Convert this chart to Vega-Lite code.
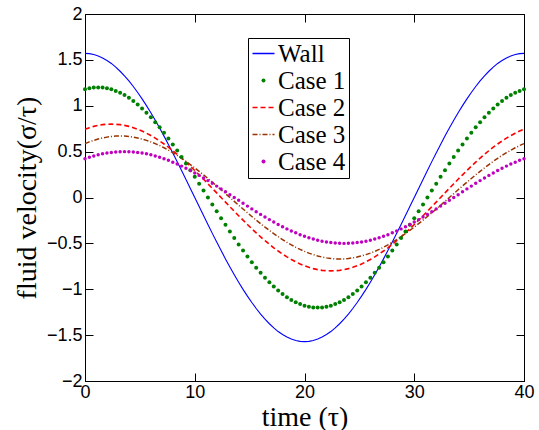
{
  "$schema": "https://vega.github.io/schema/vega-lite/v6.json",
  "width": 439,
  "height": 367,
  "autosize": {"type": "none"},
  "padding": {"left": 85, "top": 14, "right": 15, "bottom": 49},
  "background": "white",
  "config": {
    "view": {"stroke": "black", "strokeWidth": 1},
    "axis": {
      "grid": false,
      "domainColor": "black",
      "tickColor": "black",
      "tickSize": -8,
      "labelFlush": false,
      "labelOverlap": false,
      "labelFont": "Liberation Sans",
      "labelFontSize": 18,
      "labelColor": "black",
      "titleFont": "Liberation Serif",
      "titleFontSize": 28,
      "titleFontWeight": "normal",
      "titleColor": "black"
    }
  },
  "data": {"values": [
    {"t":0,"Wall":1.571,"Case 1":1.179,"Case 2":0.744,"Case 3":0.587,"Case 4":0.422},
    {"t":0.4,"Wall":1.568,"Case 1":1.191,"Case 2":0.761,"Case 3":0.606,"Case 4":0.438},
    {"t":0.8,"Wall":1.558,"Case 1":1.198,"Case 2":0.775,"Case 3":0.623,"Case 4":0.452},
    {"t":1.2,"Wall":1.543,"Case 1":1.2,"Case 2":0.786,"Case 3":0.637,"Case 4":0.465},
    {"t":1.6,"Wall":1.521,"Case 1":1.198,"Case 2":0.794,"Case 3":0.649,"Case 4":0.476},
    {"t":2.0,"Wall":1.494,"Case 1":1.191,"Case 2":0.798,"Case 3":0.658,"Case 4":0.484},
    {"t":2.4,"Wall":1.461,"Case 1":1.179,"Case 2":0.8,"Case 3":0.665,"Case 4":0.491},
    {"t":2.8,"Wall":1.421,"Case 1":1.162,"Case 2":0.798,"Case 3":0.669,"Case 4":0.496},
    {"t":3.2,"Wall":1.376,"Case 1":1.141,"Case 2":0.794,"Case 3":0.67,"Case 4":0.499},
    {"t":3.6,"Wall":1.326,"Case 1":1.116,"Case 2":0.786,"Case 3":0.669,"Case 4":0.5},
    {"t":4.0,"Wall":1.271,"Case 1":1.086,"Case 2":0.775,"Case 3":0.665,"Case 4":0.499},
    {"t":4.4,"Wall":1.210,"Case 1":1.052,"Case 2":0.761,"Case 3":0.658,"Case 4":0.496},
    {"t":4.8,"Wall":1.145,"Case 1":1.013,"Case 2":0.744,"Case 3":0.649,"Case 4":0.491},
    {"t":5.2,"Wall":1.075,"Case 1":0.971,"Case 2":0.724,"Case 3":0.637,"Case 4":0.484},
    {"t":5.6,"Wall":1.001,"Case 1":0.925,"Case 2":0.701,"Case 3":0.623,"Case 4":0.476},
    {"t":6.0,"Wall":0.923,"Case 1":0.875,"Case 2":0.675,"Case 3":0.606,"Case 4":0.465},
    {"t":6.4,"Wall":0.842,"Case 1":0.821,"Case 2":0.647,"Case 3":0.587,"Case 4":0.452},
    {"t":6.8,"Wall":0.757,"Case 1":0.765,"Case 2":0.616,"Case 3":0.566,"Case 4":0.438},
    {"t":7.2,"Wall":0.669,"Case 1":0.705,"Case 2":0.583,"Case 3":0.542,"Case 4":0.422},
    {"t":7.6,"Wall":0.578,"Case 1":0.643,"Case 2":0.548,"Case 3":0.516,"Case 4":0.405},
    {"t":8.0,"Wall":0.485,"Case 1":0.578,"Case 2":0.51,"Case 3":0.488,"Case 4":0.385},
    {"t":8.4,"Wall":0.391,"Case 1":0.511,"Case 2":0.47,"Case 3":0.459,"Case 4":0.365},
    {"t":8.8,"Wall":0.294,"Case 1":0.442,"Case 2":0.429,"Case 3":0.427,"Case 4":0.342},
    {"t":9.2,"Wall":0.197,"Case 1":0.371,"Case 2":0.385,"Case 3":0.394,"Case 4":0.319},
    {"t":9.6,"Wall":0.099,"Case 1":0.298,"Case 2":0.341,"Case 3":0.359,"Case 4":0.294},
    {"t":10.0,"Wall":0,"Case 1":0.225,"Case 2":0.294,"Case 3":0.323,"Case 4":0.268},
    {"t":10.4,"Wall":-0.099,"Case 1":0.15,"Case 2":0.247,"Case 3":0.285,"Case 4":0.241},
    {"t":10.8,"Wall":-0.197,"Case 1":0.075,"Case 2":0.199,"Case 3":0.247,"Case 4":0.213},
    {"t":11.2,"Wall":-0.294,"Case 1":0,"Case 2":0.15,"Case 3":0.207,"Case 4":0.184},
    {"t":11.6,"Wall":-0.391,"Case 1":-0.075,"Case 2":0.1,"Case 3":0.167,"Case 4":0.155},
    {"t":12.0,"Wall":-0.485,"Case 1":-0.15,"Case 2":0.05,"Case 3":0.126,"Case 4":0.124},
    {"t":12.4,"Wall":-0.578,"Case 1":-0.225,"Case 2":0,"Case 3":0.084,"Case 4":0.094},
    {"t":12.8,"Wall":-0.669,"Case 1":-0.298,"Case 2":-0.05,"Case 3":0.042,"Case 4":0.063},
    {"t":13.2,"Wall":-0.757,"Case 1":-0.371,"Case 2":-0.1,"Case 3":0,"Case 4":0.031},
    {"t":13.6,"Wall":-0.842,"Case 1":-0.442,"Case 2":-0.15,"Case 3":-0.042,"Case 4":0},
    {"t":14.0,"Wall":-0.923,"Case 1":-0.511,"Case 2":-0.199,"Case 3":-0.084,"Case 4":-0.031},
    {"t":14.4,"Wall":-1.001,"Case 1":-0.578,"Case 2":-0.247,"Case 3":-0.126,"Case 4":-0.063},
    {"t":14.8,"Wall":-1.075,"Case 1":-0.643,"Case 2":-0.294,"Case 3":-0.167,"Case 4":-0.094},
    {"t":15.2,"Wall":-1.145,"Case 1":-0.705,"Case 2":-0.341,"Case 3":-0.207,"Case 4":-0.124},
    {"t":15.6,"Wall":-1.210,"Case 1":-0.765,"Case 2":-0.385,"Case 3":-0.247,"Case 4":-0.155},
    {"t":16.0,"Wall":-1.271,"Case 1":-0.821,"Case 2":-0.429,"Case 3":-0.285,"Case 4":-0.184},
    {"t":16.4,"Wall":-1.326,"Case 1":-0.875,"Case 2":-0.47,"Case 3":-0.323,"Case 4":-0.213},
    {"t":16.8,"Wall":-1.376,"Case 1":-0.925,"Case 2":-0.51,"Case 3":-0.359,"Case 4":-0.241},
    {"t":17.2,"Wall":-1.421,"Case 1":-0.971,"Case 2":-0.548,"Case 3":-0.394,"Case 4":-0.268},
    {"t":17.6,"Wall":-1.461,"Case 1":-1.013,"Case 2":-0.583,"Case 3":-0.427,"Case 4":-0.294},
    {"t":18.0,"Wall":-1.494,"Case 1":-1.052,"Case 2":-0.616,"Case 3":-0.459,"Case 4":-0.319},
    {"t":18.4,"Wall":-1.521,"Case 1":-1.086,"Case 2":-0.647,"Case 3":-0.488,"Case 4":-0.342},
    {"t":18.8,"Wall":-1.543,"Case 1":-1.116,"Case 2":-0.675,"Case 3":-0.516,"Case 4":-0.365},
    {"t":19.2,"Wall":-1.558,"Case 1":-1.141,"Case 2":-0.701,"Case 3":-0.542,"Case 4":-0.385},
    {"t":19.6,"Wall":-1.568,"Case 1":-1.162,"Case 2":-0.724,"Case 3":-0.566,"Case 4":-0.405},
    {"t":20.0,"Wall":-1.571,"Case 1":-1.179,"Case 2":-0.744,"Case 3":-0.587,"Case 4":-0.422},
    {"t":20.4,"Wall":-1.568,"Case 1":-1.191,"Case 2":-0.761,"Case 3":-0.606,"Case 4":-0.438},
    {"t":20.8,"Wall":-1.558,"Case 1":-1.198,"Case 2":-0.775,"Case 3":-0.623,"Case 4":-0.452},
    {"t":21.2,"Wall":-1.543,"Case 1":-1.2,"Case 2":-0.786,"Case 3":-0.637,"Case 4":-0.465},
    {"t":21.6,"Wall":-1.521,"Case 1":-1.198,"Case 2":-0.794,"Case 3":-0.649,"Case 4":-0.476},
    {"t":22.0,"Wall":-1.494,"Case 1":-1.191,"Case 2":-0.798,"Case 3":-0.658,"Case 4":-0.484},
    {"t":22.4,"Wall":-1.461,"Case 1":-1.179,"Case 2":-0.8,"Case 3":-0.665,"Case 4":-0.491},
    {"t":22.8,"Wall":-1.421,"Case 1":-1.162,"Case 2":-0.798,"Case 3":-0.669,"Case 4":-0.496},
    {"t":23.2,"Wall":-1.376,"Case 1":-1.141,"Case 2":-0.794,"Case 3":-0.67,"Case 4":-0.499},
    {"t":23.6,"Wall":-1.326,"Case 1":-1.116,"Case 2":-0.786,"Case 3":-0.669,"Case 4":-0.5},
    {"t":24.0,"Wall":-1.271,"Case 1":-1.086,"Case 2":-0.775,"Case 3":-0.665,"Case 4":-0.499},
    {"t":24.4,"Wall":-1.210,"Case 1":-1.052,"Case 2":-0.761,"Case 3":-0.658,"Case 4":-0.496},
    {"t":24.8,"Wall":-1.145,"Case 1":-1.013,"Case 2":-0.744,"Case 3":-0.649,"Case 4":-0.491},
    {"t":25.2,"Wall":-1.075,"Case 1":-0.971,"Case 2":-0.724,"Case 3":-0.637,"Case 4":-0.484},
    {"t":25.6,"Wall":-1.001,"Case 1":-0.925,"Case 2":-0.701,"Case 3":-0.623,"Case 4":-0.476},
    {"t":26.0,"Wall":-0.923,"Case 1":-0.875,"Case 2":-0.675,"Case 3":-0.606,"Case 4":-0.465},
    {"t":26.4,"Wall":-0.842,"Case 1":-0.821,"Case 2":-0.647,"Case 3":-0.587,"Case 4":-0.452},
    {"t":26.8,"Wall":-0.757,"Case 1":-0.765,"Case 2":-0.616,"Case 3":-0.566,"Case 4":-0.438},
    {"t":27.2,"Wall":-0.669,"Case 1":-0.705,"Case 2":-0.583,"Case 3":-0.542,"Case 4":-0.422},
    {"t":27.6,"Wall":-0.578,"Case 1":-0.643,"Case 2":-0.548,"Case 3":-0.516,"Case 4":-0.405},
    {"t":28.0,"Wall":-0.485,"Case 1":-0.578,"Case 2":-0.51,"Case 3":-0.488,"Case 4":-0.385},
    {"t":28.4,"Wall":-0.391,"Case 1":-0.511,"Case 2":-0.47,"Case 3":-0.459,"Case 4":-0.365},
    {"t":28.8,"Wall":-0.294,"Case 1":-0.442,"Case 2":-0.429,"Case 3":-0.427,"Case 4":-0.342},
    {"t":29.2,"Wall":-0.197,"Case 1":-0.371,"Case 2":-0.385,"Case 3":-0.394,"Case 4":-0.319},
    {"t":29.6,"Wall":-0.099,"Case 1":-0.298,"Case 2":-0.341,"Case 3":-0.359,"Case 4":-0.294},
    {"t":30.0,"Wall":0,"Case 1":-0.225,"Case 2":-0.294,"Case 3":-0.323,"Case 4":-0.268},
    {"t":30.4,"Wall":0.099,"Case 1":-0.15,"Case 2":-0.247,"Case 3":-0.285,"Case 4":-0.241},
    {"t":30.8,"Wall":0.197,"Case 1":-0.075,"Case 2":-0.199,"Case 3":-0.247,"Case 4":-0.213},
    {"t":31.2,"Wall":0.294,"Case 1":0,"Case 2":-0.15,"Case 3":-0.207,"Case 4":-0.184},
    {"t":31.6,"Wall":0.391,"Case 1":0.075,"Case 2":-0.1,"Case 3":-0.167,"Case 4":-0.155},
    {"t":32.0,"Wall":0.485,"Case 1":0.15,"Case 2":-0.05,"Case 3":-0.126,"Case 4":-0.124},
    {"t":32.4,"Wall":0.578,"Case 1":0.225,"Case 2":0,"Case 3":-0.084,"Case 4":-0.094},
    {"t":32.8,"Wall":0.669,"Case 1":0.298,"Case 2":0.05,"Case 3":-0.042,"Case 4":-0.063},
    {"t":33.2,"Wall":0.757,"Case 1":0.371,"Case 2":0.1,"Case 3":0,"Case 4":-0.031},
    {"t":33.6,"Wall":0.842,"Case 1":0.442,"Case 2":0.15,"Case 3":0.042,"Case 4":0},
    {"t":34.0,"Wall":0.923,"Case 1":0.511,"Case 2":0.199,"Case 3":0.084,"Case 4":0.031},
    {"t":34.4,"Wall":1.001,"Case 1":0.578,"Case 2":0.247,"Case 3":0.126,"Case 4":0.063},
    {"t":34.8,"Wall":1.075,"Case 1":0.643,"Case 2":0.294,"Case 3":0.167,"Case 4":0.094},
    {"t":35.2,"Wall":1.145,"Case 1":0.705,"Case 2":0.341,"Case 3":0.207,"Case 4":0.124},
    {"t":35.6,"Wall":1.210,"Case 1":0.765,"Case 2":0.385,"Case 3":0.247,"Case 4":0.155},
    {"t":36.0,"Wall":1.271,"Case 1":0.821,"Case 2":0.429,"Case 3":0.285,"Case 4":0.184},
    {"t":36.4,"Wall":1.326,"Case 1":0.875,"Case 2":0.47,"Case 3":0.323,"Case 4":0.213},
    {"t":36.8,"Wall":1.376,"Case 1":0.925,"Case 2":0.51,"Case 3":0.359,"Case 4":0.241},
    {"t":37.2,"Wall":1.421,"Case 1":0.971,"Case 2":0.548,"Case 3":0.394,"Case 4":0.268},
    {"t":37.6,"Wall":1.461,"Case 1":1.013,"Case 2":0.583,"Case 3":0.427,"Case 4":0.294},
    {"t":38.0,"Wall":1.494,"Case 1":1.052,"Case 2":0.616,"Case 3":0.459,"Case 4":0.319},
    {"t":38.4,"Wall":1.521,"Case 1":1.086,"Case 2":0.647,"Case 3":0.488,"Case 4":0.342},
    {"t":38.8,"Wall":1.543,"Case 1":1.116,"Case 2":0.675,"Case 3":0.516,"Case 4":0.365},
    {"t":39.2,"Wall":1.558,"Case 1":1.141,"Case 2":0.701,"Case 3":0.542,"Case 4":0.385},
    {"t":39.6,"Wall":1.568,"Case 1":1.162,"Case 2":0.724,"Case 3":0.566,"Case 4":0.405},
    {"t":40.0,"Wall":1.571,"Case 1":1.179,"Case 2":0.744,"Case 3":0.587,"Case 4":0.422}
  ]},
  "transform": [
    {"fold": ["Wall", "Case 1", "Case 2", "Case 3", "Case 4"], "as": ["series", "v"]}
  ],
  "resolve": {"axis": {"x": "independent", "y": "independent"}},
  "layer": [
    {
      "encoding": {
        "x": {
          "field": "t", "type": "quantitative",
          "scale": {"domain": [0, 40], "nice": false, "zero": false},
          "axis": {"orient": "bottom", "values": [0, 10, 20, 30, 40], "title": "time (τ)", "labelPadding": 10, "titlePadding": 2}
        },
        "y": {
          "field": "v", "type": "quantitative",
          "scale": {"domain": [-2, 2], "nice": false},
          "axis": {"orient": "left", "values": [-2, -1.5, -1, -0.5, 0, 0.5, 1, 1.5, 2], "format": "~g", "title": "fluid velocity(σ/τ)", "labelPadding": 11, "titlePadding": 5}
        },
        "color": {
          "field": "series", "type": "nominal",
          "scale": {
            "domain": ["Wall", "Case 1", "Case 2", "Case 3", "Case 4"],
            "range": ["#0000ff", "#008000", "#ff0000", "#993300", "#bf00bf"]
          },
          "legend": {
            "title": null,
            "orient": "none",
            "legendX": 163,
            "legendY": 24,
            "direction": "vertical",
            "labelFont": "Liberation Serif",
            "labelFontSize": 25,
            "labelColor": "black",
            "labelOffset": 2,
            "rowPadding": 1,
            "padding": 3,
            "strokeColor": "black",
            "fillColor": "white",
            "symbolType": "stroke",
            "symbolSize": 484,
            "symbolStrokeWidth": 1.2,
            "encode": {
              "symbols": {
                "update": {
                  "shape": {"signal": "datum.value === 'Case 1' || datum.value === 'Case 4' ? 'circle' : 'stroke'"},
                  "size": {"signal": "datum.value === 'Case 1' || datum.value === 'Case 4' ? 16 : 484"},
                  "strokeDash": {"signal": "datum.value === 'Case 2' ? [5, 3] : datum.value === 'Case 3' ? [5, 2, 1, 2] : [1, 0]"},
                  "stroke": {"signal": "datum.value === 'Case 1' || datum.value === 'Case 4' ? 'transparent' : scale('color', datum.value)"},
                  "fill": {"signal": "datum.value === 'Case 1' || datum.value === 'Case 4' ? scale('color', datum.value) : 'transparent'"},
                  "strokeWidth": {"signal": "datum.value === 'Case 1' || datum.value === 'Case 4' ? 0 : 1.3"}
                }
              }
            }
          }
        }
      },
      "layer": [
        {
          "transform": [{"filter": "datum.series === 'Wall'"}],
          "mark": {"type": "line", "strokeWidth": 1.1}
        },
        {
          "transform": [{"filter": "datum.series === 'Case 2'"}],
          "mark": {"type": "line", "strokeWidth": 1.6, "strokeDash": [5, 3]}
        },
        {
          "transform": [{"filter": "datum.series === 'Case 3'"}],
          "mark": {"type": "line", "strokeWidth": 1.5, "strokeDash": [5, 2, 1, 2]}
        },
        {
          "transform": [{"filter": "datum.series === 'Case 1'"}],
          "mark": {"type": "point", "filled": true, "size": 16, "opacity": 1, "strokeWidth": 0}
        },
        {
          "transform": [{"filter": "datum.series === 'Case 4'"}],
          "mark": {"type": "point", "filled": true, "size": 12, "opacity": 1, "strokeWidth": 0}
        }
      ]
    },
    {
      "transform": [{"filter": "datum.series === 'Wall'"}],
      "mark": {"type": "line", "opacity": 0},
      "encoding": {
        "x": {"field": "t", "type": "quantitative", "axis": {"orient": "top", "values": [0, 10, 20, 30, 40], "labels": false, "title": null, "domain": false}},
        "y": {"field": "v", "type": "quantitative", "axis": {"orient": "right", "values": [-2, -1.5, -1, -0.5, 0, 0.5, 1, 1.5, 2], "labels": false, "title": null, "domain": false}}
      }
    }
  ]
}
